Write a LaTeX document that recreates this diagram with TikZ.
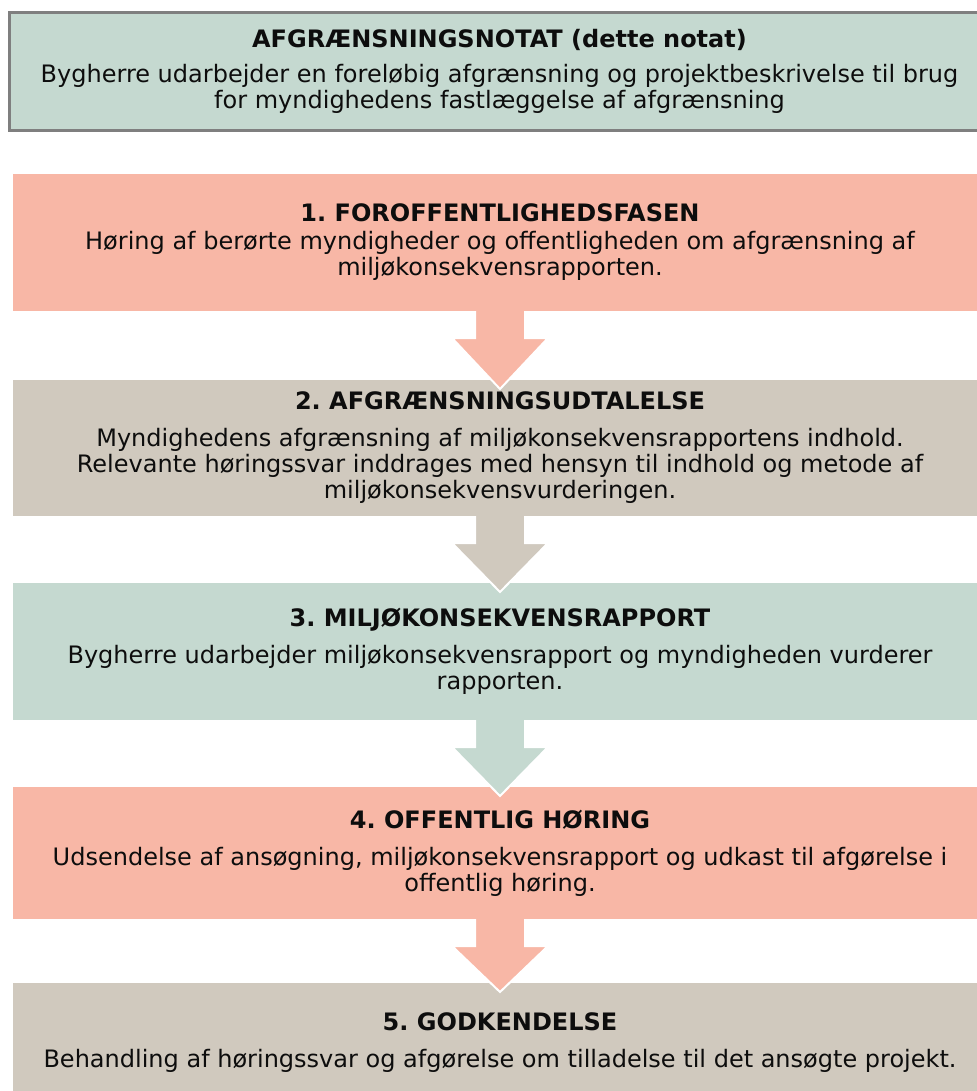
\documentclass[tikz,border=0pt]{standalone}
\usepackage{fontspec}
\setmainfont{DejaVu Sans}
\usetikzlibrary{calc}
\definecolor{groen}{RGB}{197,217,208}
\definecolor{laks}{RGB}{248,183,166}
\definecolor{sand}{RGB}{208,201,190}
\definecolor{kant}{RGB}{127,127,127}
\frenchspacing
\begin{document}
\begin{tikzpicture}[x=0.5pt, y=-0.5pt,
    box/.style={minimum width=487pt, inner sep=0pt, outer sep=0pt, align=center,
                font=\fontsize{12}{13}\selectfont, text=black!95}]
   \useasboundingbox (0,0) rectangle (977,1091);
   % notat
   \node[box, fill=groen, draw=kant, line width=1.5pt, minimum width=490pt, minimum height=59pt]
      (notat) at (499.5,71.5) {\textbf{AFGRÆNSNINGSNOTAT (dette notat)}\\[4.5pt]
      Bygherre udarbejder en foreløbig afgrænsning og projektbeskrivelse til brug\\
      for myndighedens fastlæggelse af afgrænsning};
   % faser
   \node[box, fill=laks, minimum height=68.5pt] (fase1) at (500,242.5)
      {\textbf{1. FOROFFENTLIGHEDSFASEN}\\[1pt]
      Høring af berørte myndigheder og offentligheden om afgrænsning af\\
      miljøkonsekvensrapporten.};
   \node[box, fill=sand, minimum height=68pt] (fase2) at (500,448)
      {\textbf{2. AFGRÆNSNINGSUDTALELSE}\\[5.5pt]
      Myndighedens afgrænsning af miljøkonsekvensrapportens indhold.\\
      Relevante høringssvar inddrages med hensyn til indhold og metode af\\
      miljøkonsekvensvurderingen.};
   \node[box, fill=groen, minimum height=68.5pt] (fase3) at (500,651.5)
      {\textbf{3. MILJØKONSEKVENSRAPPORT}\\[5.5pt]
      Bygherre udarbejder miljøkonsekvensrapport og myndigheden vurderer\\
      rapporten.};
   \node[box, fill=laks, minimum height=66pt] (fase4) at (500,853)
      {\textbf{4. OFFENTLIG HØRING}\\[5.5pt]
      Udsendelse af ansøgning, miljøkonsekvensrapport og udkast til afgørelse i\\
      offentlig høring.};
   \node[box, fill=sand, minimum height=60pt] (fase5) at (500,1043)
      {\textbf{5. GODKENDELSE}\\[5.5pt]
      Behandling af høringssvar og afgørelse om tilladelse til det ansøgte projekt.};
   % pile
   \foreach \a/\b/\c in {fase1/fase2/laks, fase2/fase3/sand, fase3/fase4/groen, fase4/fase5/laks}
      \filldraw[fill=\c, draw=white, line width=1pt]
         ($(\a.south)+(-25,0)$) -- ($(\a.south)+(-25,27)$) -- ($(\a.south)+(-48,27)$)
         -- ($(\b.north)+(0,9)$)
         -- ($(\a.south)+(48,27)$) -- ($(\a.south)+(25,27)$) -- ($(\a.south)+(25,0)$);
\end{tikzpicture}
\end{document}
